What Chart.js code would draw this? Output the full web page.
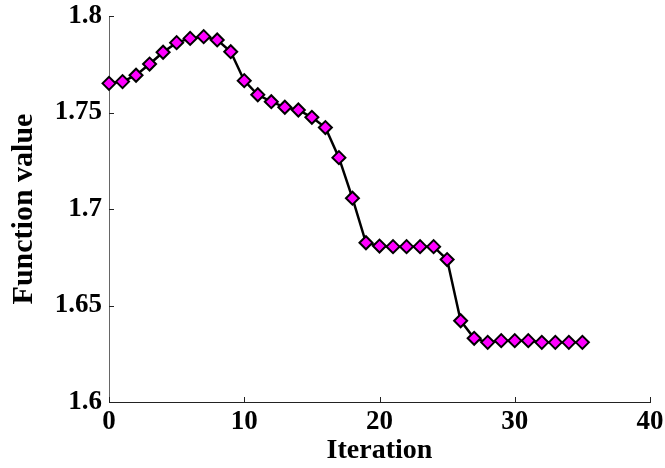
<!DOCTYPE html>
<html>
<head>
<meta charset="utf-8">
<script src="https://cdn.jsdelivr.net/npm/chart.js@4/dist/chart.umd.min.js"></script>
<style>
	html, body { margin: 0; padding: 0; background: #fff; }
	canvas { display: block; }
</style>
</head>
<body>
<canvas id="chart" width="665" height="468"></canvas>
<script>
// values
const iterations = [0, 1, 2, 3, 4, 5, 6, 7, 8, 9, 10, 11, 12, 13, 14, 15, 16, 17,
	18, 19, 20, 21, 22, 23, 24, 25, 26, 27, 28, 29, 30, 31, 32, 33, 34, 35];
const functionValues = [1.7651, 1.7660, 1.7693, 1.7751, 1.7812, 1.7862, 1.7884, 1.7893,
	1.7876, 1.7815, 1.7665, 1.7592, 1.7556, 1.7527, 1.7513, 1.7475, 1.7422, 1.7266,
	1.7056, 1.6825, 1.6808, 1.6805, 1.6805, 1.6805, 1.6805, 1.6738, 1.6421, 1.6330,
	1.6309, 1.6318, 1.6318, 1.6318, 1.6309, 1.6309, 1.6309, 1.6309];
const xTicks = [0, 10, 20, 30, 40];
const yTicks = [1.6, 1.65, 1.7, 1.75, 1.8];
const yTickLabels = ["1.6", "1.65", "1.7", "1.75", "1.8"];

const serif = "'Liberation Serif', 'Times New Roman', serif";
const tickFont = { family: serif, weight: "bold", size: 27 };
const xTitleFont = { family: serif, weight: "bold", size: 28 };
const yTitleFont = { family: serif, weight: "bold", size: 30 };

// small tick marks pointing into the plot, like the original
const innerTicks = {
	id: "innerTicks",
	beforeDatasetsDraw(chart) {
		const ctx = chart.ctx;
		const x = chart.scales.x;
		const y = chart.scales.y;
		ctx.save();
		ctx.lineWidth = 1;
		ctx.strokeStyle = "#222";
		ctx.beginPath();
		xTicks.forEach(v => {
			const px = Math.round(x.getPixelForValue(v)) + 0.5;
			ctx.moveTo(px, y.bottom);
			ctx.lineTo(px, y.bottom - 5);
		});
		yTicks.forEach(v => {
			const py = Math.round(y.getPixelForValue(v)) + 0.5;
			ctx.moveTo(x.left, py);
			ctx.lineTo(x.left + 5, py);
		});
		ctx.stroke();
		ctx.restore();
	}
};

const points = iterations.map((it, i) => ({ x: it, y: functionValues[i] }));

new Chart(document.getElementById("chart"), {
	type: "line",
	data: {
		datasets: [{
			data: points,
			borderColor: "#000",
			borderWidth: 2.5,
			pointStyle: "rectRot",
			pointRadius: 6.5,
			pointBorderWidth: 2,
			pointBackgroundColor: "#ff00ff",
			pointBorderColor: "#000",
			tension: 0,
			clip: false
		}]
	},
	options: {
		responsive: false,
		animation: false,
		events: [],
		layout: { padding: { top: 16, right: 15, left: 0, bottom: 0 } },
		plugins: { legend: { display: false }, tooltip: { enabled: false } },
		scales: {
			x: {
				type: "linear",
				min: 0,
				max: 40,
				afterBuildTicks: s => { s.ticks = xTicks.map(v => ({ value: v })); },
				afterFit: s => {
					s.height = 66;
					s.paddingLeft = 0;
					s.paddingRight = 0;
				},
				grid: { display: false, drawTicks: false },
				border: { display: true, color: "#222", width: 1 },
				ticks: { color: "#000", font: tickFont, padding: 4, maxRotation: 0 },
				title: { display: true, text: "Iteration", color: "#000", font: xTitleFont, padding: { top: 0, bottom: 0 } }
			},
			y: {
				type: "linear",
				min: 1.6,
				max: 1.8,
				afterBuildTicks: s => { s.ticks = yTicks.map(v => ({ value: v })); },
				afterFit: s => {
					s.width = 109;
					s.paddingTop = 0;
					s.paddingBottom = 0;
				},
				grid: { display: false, drawTicks: false },
				border: { display: true, color: "#666", width: 1 },
				ticks: {
					color: "#000",
					font: tickFont,
					padding: 7,
					callback: v => yTickLabels[yTicks.indexOf(v)]
				},
				title: { display: true, text: "Function value", color: "#000", font: yTitleFont, padding: { top: 6, bottom: 0 } }
			}
		}
	},
	plugins: [innerTicks]
});
</script>
</body>
</html>
